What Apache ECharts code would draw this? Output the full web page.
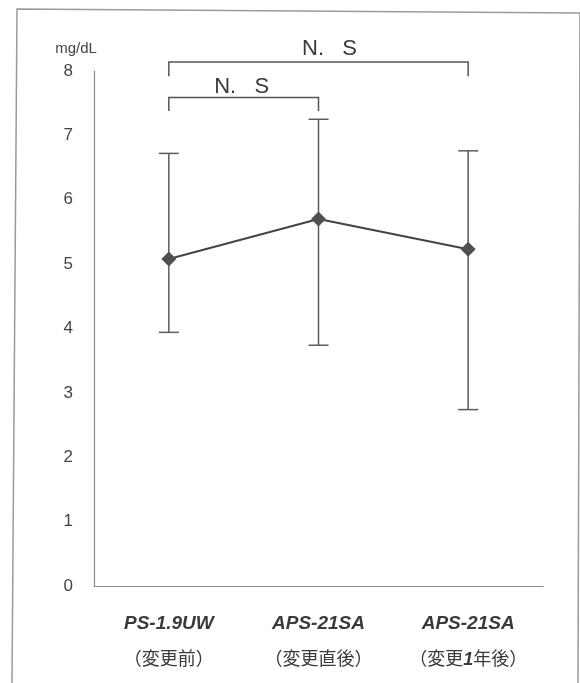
<!DOCTYPE html>
<html>
<head>
<meta charset="utf-8">
<script src="https://cdn.jsdelivr.net/npm/echarts@6/dist/echarts.min.js"></script>
<style>
html,body{margin:0;padding:0;background:#fff;}
#chart{width:580px;height:683px;}
</style>
</head>
<body>
<div id="chart"></div>
<script>
// ---- data ----
const categories = ['PS-1.9UW', 'APS-21SA', 'APS-21SA'];
const subLabels = ['（変更前）', '（変更直後）', '（変更1年後）'];
const means = [5.08, 5.70, 5.23];
const upper = [6.72, 7.25, 6.76];
const lower = [3.94, 3.74, 2.74];
const yTickLabels = ['0', '1', '2', '3', '4', '5', '6', '7', '8'];
const yUnit = 'mg/dL';
const comparisons = [
  { from: 0, to: 2, label: 'N.   S' },
  { from: 0, to: 1, label: 'N.   S' }
];

// ---- styling (positions / sizes) ----
const bracketLevels = [{ y: 8.14, tick: 7.92, text: 8.35, shift: 11 },
                       { y: 7.59, tick: 7.38, text: 7.76, shift: -2 }];
const LATIN = '"Liberation Sans", Arial, sans-serif';
const CJK = '"Liberation Sans", "Noto Sans CJK JP", sans-serif';

const chart = echarts.init(document.getElementById('chart'), null, { renderer: 'canvas' });

function subLabelRich(s) {
  // Render digits in bold italic, rest regular
  return s.split(/(\d+)/).filter(p => p.length).map(p =>
    /^\d+$/.test(p) ? '{n|' + p + '}' : '{b|' + p + '}').join('');
}

const option = {
  backgroundColor: '#fff',
  animation: false,
  graphic: [{
    type: 'polyline',
    silent: true,
    shape: { points: [[12, 683], [17, 9], [580, 13], [578, 683]] },
    style: { stroke: '#9a9a9a', lineWidth: 1.5, fill: null }
  }],
  grid: { left: 94, right: 37, top: 71, bottom: 97 },
  xAxis: {
    type: 'category',
    data: categories.map((c, i) => String(i)),
    boundaryGap: true,
    axisLine: { show: true, lineStyle: { color: '#8c8c8c', width: 1.2 } },
    axisTick: { show: false },
    splitLine: { show: false },
    axisLabel: {
      interval: 0,
      margin: 20,
      formatter: function (v, idx) {
        return '{a|' + categories[idx] + '}\n' + subLabelRich(subLabels[idx]);
      },
      rich: {
        a: { fontFamily: LATIN, fontSize: 19, fontWeight: 'bold', fontStyle: 'italic', color: '#3a3a3a', lineHeight: 36, align: 'center' },
        b: { fontFamily: CJK, fontSize: 18, color: '#3a3a3a', lineHeight: 36 },
        n: { fontFamily: LATIN, fontSize: 18, fontWeight: 'bold', fontStyle: 'italic', color: '#3a3a3a', lineHeight: 36 }
      }
    }
  },
  yAxis: {
    type: 'value',
    min: 0,
    max: 8,
    interval: 1,
    name: yUnit,
    nameLocation: 'end',
    nameGap: 22,
    nameTextStyle: { fontFamily: LATIN, fontSize: 15, color: '#444', align: 'center', verticalAlign: 'middle', padding: [0, 36, 0, 0] },
    axisLine: { show: true, lineStyle: { color: '#8c8c8c', width: 1.2 } },
    axisTick: { show: false },
    splitLine: { show: false },
    axisLabel: {
      margin: 21,
      fontFamily: LATIN,
      fontSize: 17,
      color: '#444',
      formatter: function (v) { return yTickLabels[Math.round(v)]; }
    }
  },
  series: [
    {
      type: 'custom',
      name: 'error',
      z: 2,
      data: categories.map((c, i) => [i, lower[i], upper[i]]),
      renderItem: function (params, api) {
        const x = api.value(0);
        const lo = api.coord([x, api.value(1)]);
        const hi = api.coord([x, api.value(2)]);
        const hw = 10;
        const st = { stroke: '#5c5c5c', lineWidth: 1.5 };
        return {
          type: 'group',
          children: [
            { type: 'line', shape: { x1: lo[0], y1: lo[1], x2: hi[0], y2: hi[1] }, style: st },
            { type: 'line', shape: { x1: lo[0] - hw, y1: lo[1], x2: lo[0] + hw, y2: lo[1] }, style: st },
            { type: 'line', shape: { x1: hi[0] - hw, y1: hi[1], x2: hi[0] + hw, y2: hi[1] }, style: st }
          ]
        };
      }
    },
    {
      type: 'line',
      name: 'mean',
      z: 3,
      data: means,
      symbol: 'diamond',
      symbolSize: [15, 15],
      lineStyle: { color: '#444', width: 2 },
      itemStyle: { color: '#505050' }
    },
    {
      type: 'custom',
      name: 'brackets',
      z: 4,
      clip: false,
      data: comparisons.map((c, i) => [c.from, c.to, i]),
      renderItem: function (params, api) {
        const i = api.value(2);
        const lv = bracketLevels[i];
        const a = api.coord([api.value(0), lv.y]);
        const b = api.coord([api.value(1), lv.y]);
        const ta = api.coord([api.value(0), lv.tick]);
        const tb = api.coord([api.value(1), lv.tick]);
        const tt = api.coord([api.value(0), lv.text]);
        const st = { stroke: '#555', lineWidth: 1.5, fill: null };
        return {
          type: 'group',
          children: [
            { type: 'polyline', shape: { points: [[ta[0], ta[1]], [a[0], a[1]], [b[0], b[1]], [tb[0], tb[1]]] }, style: st },
            {
              type: 'text',
              style: {
                text: comparisons[i].label,
                x: (a[0] + b[0]) / 2 + lv.shift,
                y: tt[1],
                align: 'center', verticalAlign: 'middle',
                textAlign: 'center', textVerticalAlign: 'middle',
                font: '22px ' + LATIN,
                fill: '#3a3a3a'
              }
            }
          ]
        };
      }
    }
  ]
};
chart.setOption(option);
</script>
</body>
</html>
